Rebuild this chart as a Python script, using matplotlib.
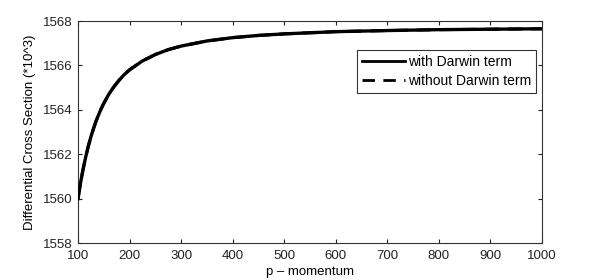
import matplotlib
matplotlib.use("Agg")
import matplotlib.pyplot as plt

plt.rcParams['font.family'] = ['Liberation Sans', 'DejaVu Sans']

p = [100, 105, 110, 115, 120, 125, 130, 135, 140, 145, 150, 160, 170, 180, 190,
     200, 225, 250, 275, 300, 350, 400, 450, 500, 600, 700, 800, 900, 1000]
with_darwin = [1560.00, 1560.72, 1561.34, 1561.88, 1562.36, 1562.78, 1563.15,
               1563.49, 1563.78, 1564.05, 1564.29, 1564.71, 1565.05, 1565.34,
               1565.59, 1565.80, 1566.20, 1566.49, 1566.71, 1566.87, 1567.10,
               1567.25, 1567.35, 1567.42, 1567.52, 1567.57, 1567.61, 1567.63,
               1567.65]
without_darwin = list(with_darwin)

xticks = [100, 200, 300, 400, 500, 600, 700, 800, 900, 1000]
yticks = [1558, 1560, 1562, 1564, 1566, 1568]

fig = plt.figure(figsize=(5.99, 2.80), dpi=100)
ax = fig.add_axes([78/599, 37/280, 464/599, 222/280])

ax.plot(p, without_darwin, color='black', lw=2.2, ls=(0, (4.5, 3)), label='without Darwin term', zorder=2)
ax.plot(p, with_darwin, color='black', lw=2.4, label='with Darwin term', zorder=3)

ax.set_xlim(100, 1000)
ax.set_ylim(1558, 1568)
ax.set_xticks(xticks)
ax.set_yticks(yticks)
ax.tick_params(direction='in', top=True, right=True, labelsize=9.5, length=3,
               width=0.8, colors='#222222')
ax.tick_params(axis='x', pad=5)
ax.tick_params(axis='y', pad=4)
for s in ax.spines.values():
    s.set_color('#333333')
    s.set_linewidth(0.8)

ax.set_xlabel('p \u2013 momentum', fontsize=9.5, labelpad=3)
ax.set_ylabel('Differential Cross Section (*10^3)', fontsize=9.5, labelpad=5)

h, l = ax.get_legend_handles_labels()
leg = ax.legend([h[1], h[0]], [l[1], l[0]], loc='upper right',
                bbox_to_anchor=(536/599, 1 - 50/280), bbox_transform=fig.transFigure,
                fontsize=10, frameon=True, fancybox=False, borderpad=0.35,
                handlelength=3.1, handletextpad=0.2, labelspacing=0.35,
                borderaxespad=0)
leg.get_frame().set_edgecolor('black')
leg.get_frame().set_linewidth(0.8)
for line in leg.get_lines():
    line.set_linewidth(2.0)

fig.savefig('out.png', dpi=100)
